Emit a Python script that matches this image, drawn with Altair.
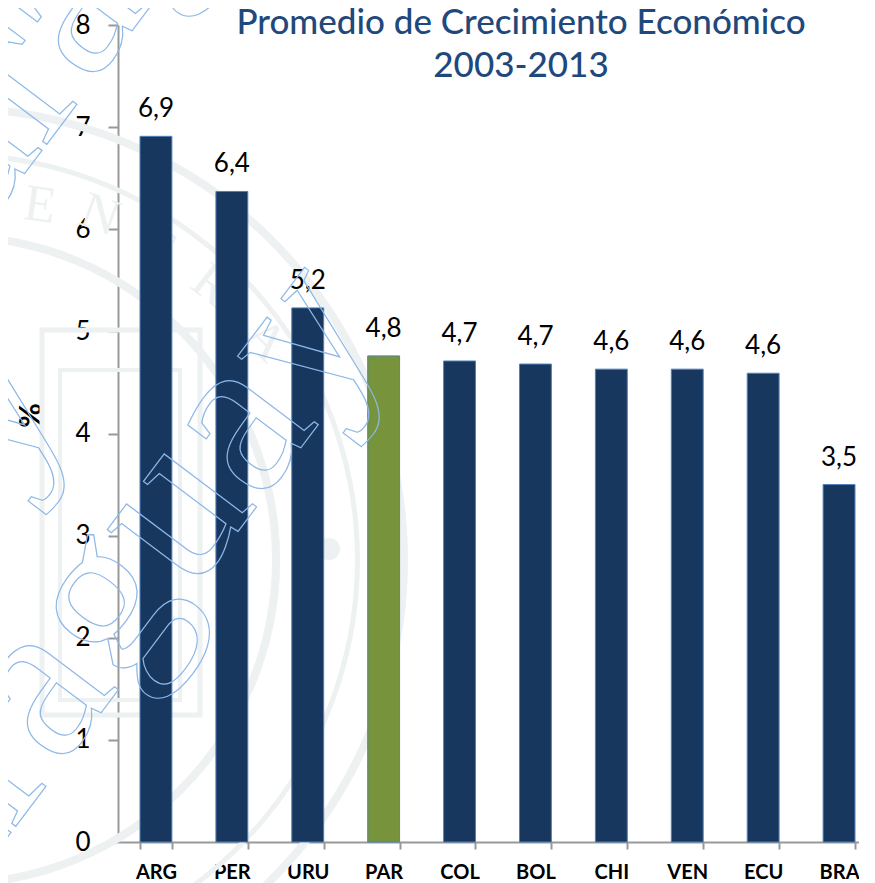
import altair as alt
import pandas as pd

categories = ["ARG", "PER", "URU", "PAR", "COL", "BOL", "CHI", "VEN", "ECU", "BRA"]
values = [6.91, 6.37, 5.23, 4.76, 4.71, 4.68, 4.63, 4.63, 4.59, 3.5]
labels = ["6,9", "6,4", "5,2", "4,8", "4,7", "4,7", "4,6", "4,6", "4,6", "3,5"]
colors = ["#17375E", "#17375E", "#17375E", "#77933C", "#17375E", "#17375E", "#17375E", "#17375E", "#17375E", "#17375E"]
title_lines = ["Promedio de Crecimiento Económico", "2003-2013"]
watermark_word = "Paraguay"
seal_letters = ["E", "N", "T", "R", "A"]
FONT = "Lato"
SEAL = "#EDF1F1"
BLUE = "#8DB8E8"
OX, OY = 118, 25  # plot origin in the picture

df = pd.DataFrame({"cat": categories, "val": values, "lab": labels, "col": colors})
one = alt.Data(values=[{"k": 0}])


def ring(r, w):
    return alt.Chart(one).mark_arc(fill=SEAL, radius=r, radius2=r - w, theta=0, theta2=6.2832).encode(
        x=alt.value(-48 - OX), y=alt.value(560 - OY))


def box(x0, x1, y0, y1, w=5):
    return alt.Chart(one).mark_rect(fill=None, stroke=SEAL, strokeWidth=w).encode(
        x=alt.value(x0 - OX), x2=alt.value(x1 - OX), y=alt.value(y0 - OY), y2=alt.value(y1 - OY))


def seal_letter(ch, px, py, ang):
    return alt.Chart(one).mark_text(text=ch, font="Liberation Serif", fontSize=52, color=SEAL, angle=ang).encode(
        x=alt.value(px - OX), y=alt.value(py - OY))


def word(px, py):
    return alt.Chart(one).mark_text(text=watermark_word, font="Liberation Serif", fontSize=230, fill="transparent",
                                    stroke=BLUE, strokeWidth=1.2, angle=307, baseline="alphabetic").encode(
        x=alt.value(px - OX), y=alt.value(py - OY))


def title_line(line, py):
    return alt.Chart(one).mark_text(text=line, font=FONT, fontSize=35, fontWeight=500, color="#1F497D",
                                    align="center", baseline="middle").encode(
        x=alt.value(521 - OX), y=alt.value(py - OY))


seal = [ring(456, 8), ring(408, 5), ring(328, 8),
        box(42, 200, 330, 715), box(60, 180, 370, 700, 4),
        alt.Chart(one).mark_arc(fill=SEAL, radius=11, theta=0, theta2=6.2832).encode(
            x=alt.value(329 - OX), y=alt.value(549 - OY)),
        seal_letter(seal_letters[0], 40, 205, 8), seal_letter(seal_letters[1], 100, 215, 20),
        seal_letter(seal_letters[2], 155, 245, 30), seal_letter(seal_letters[3], 212, 285, 38),
        seal_letter(seal_letters[4], 265, 340, 45)]

x = alt.X("cat:N", sort=categories, scale=alt.Scale(paddingInner=0.58, paddingOuter=0.29, range=[0, 759]),
          axis=alt.Axis(title=None, labelAngle=0, labelFont=FONT, labelFontSize=20, labelFontWeight="bold",
                        labelColor="#000000", labelPadding=13, domainColor="#999999", domainWidth=2,
                        tickColor="#999999", tickWidth=2, tickSize=7, tickBand="extent"))
y = alt.Y("val:Q", scale=alt.Scale(domain=[0, 8], nice=False),
          axis=alt.Axis(title="%", titleFont=FONT, titleFontSize=30, titleFontWeight="bold", titleColor="#000000",
                        titleAngle=270, titleX=-72, titleY=390, values=list(range(9)), format="d", labelFont=FONT,
                        labelFontSize=26, labelColor="#000000", labelPadding=18, domainColor="#999999",
                        domainWidth=2, tickColor="#999999", tickWidth=2, tickSize=10, grid=False))

bars = alt.Chart(df).mark_bar(stroke="#4F81BD", strokeWidth=1).encode(
    x=x, y=y, fill=alt.Fill("col:N", scale=None))
texts = alt.Chart(df).mark_text(font=FONT, fontSize=26, color="#000000", dy=-27).encode(
    x=alt.X("cat:N", sort=categories), y=alt.Y("val:Q"), text="lab:N")

layers = seal + [bars, texts, title_line(title_lines[0], 23), title_line(title_lines[1], 66),
                 word(132, 672), word(163, -10), word(-183, 740)]

chart = alt.layer(*layers).properties(
    width=741, height=817,
    padding={"left": 110, "top": 17, "right": 0, "bottom": 41},
    autosize=alt.AutoSizeParams(type="none"),
    background="white",
).configure_view(stroke=None)

chart.save("out.html", embed_options={"renderer": "svg", "actions": False})
